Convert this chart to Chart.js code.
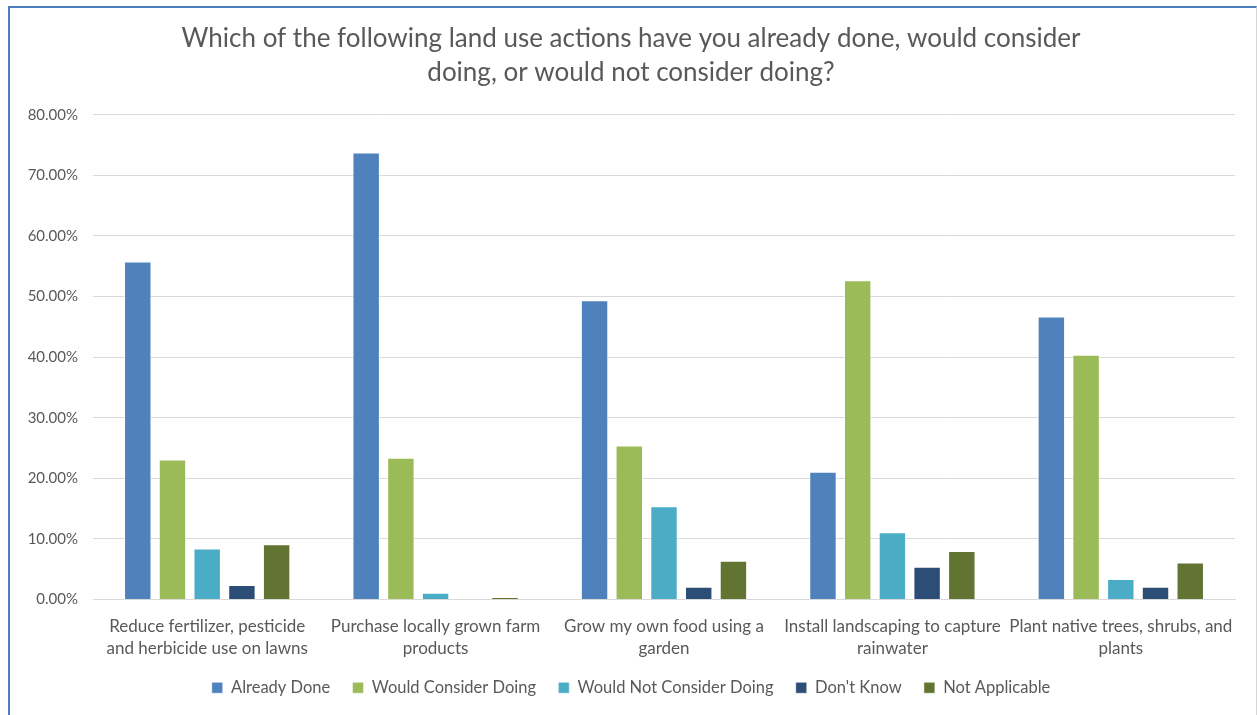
<!DOCTYPE html>
<html>
<head>
<meta charset="utf-8">
<script src="https://cdn.jsdelivr.net/npm/chart.js@4.4.0/dist/chart.umd.min.js"></script>
<style>
  html, body { margin: 0; padding: 0; background: #fff; }
  #frame {
    position: absolute; left: 8px; top: 6px; width: 1249px; height: 709px;
    box-sizing: border-box;
    border-left: 2px solid #4a7ebb; border-top: 2px solid #4a7ebb;
    border-right: 1px solid #d6d6d6;
  }
  #box { position: relative; width: 100%; height: 100%; }
</style>
</head>
<body>
<div id="frame"><div id="box"><canvas id="myChart"></canvas></div></div>
<script>
const categories = [
    ['Reduce fertilizer, pesticide', 'and herbicide use on lawns'],
    ['Purchase locally grown farm', 'products'],
    ['Grow my own food using a', 'garden'],
    ['Install landscaping to capture', 'rainwater'],
    ['Plant native trees, shrubs, and', 'plants'],
]
const seriesNames = ['Already Done', 'Would Consider Doing', 'Would Not Consider Doing', "Don't Know", 'Not Applicable']
const alreadyDone = [55.8, 73.8, 49.4, 21.1, 46.7]
const wouldConsider = [23.1, 23.4, 25.4, 52.7, 40.4]
const wouldNotConsider = [8.4, 1.1, 15.4, 11.1, 3.4]
const dontKnow = [2.4, 0, 2.1, 5.4, 2.1]
const notApplicable = [9.1, 0.4, 6.4, 8.0, 6.1]
const yTicks = [0, 10, 20, 30, 40, 50, 60, 70, 80]

const colors = ['#4f81bd', '#9bbb59', '#4bacc6', '#2c4d75', '#617432']
const values = [alreadyDone, wouldConsider, wouldNotConsider, dontKnow, notApplicable]

const FONT = 'Lato, "Open Sans", sans-serif'
const GREY = '#595959'
const PAD_LEFT = 17

let datasets = []
values.map((vals, i) => {
    datasets.push({
        label: seriesNames[i],
        data: vals,
        backgroundColor: colors[i],
        borderColor: 'rgba(255,255,255,0.55)',
        borderWidth: 1,
        categoryPercentage: 0.76,
        barPercentage: 0.79,
    })
})

const ctx = document.getElementById('myChart').getContext('2d')

const config = {
    type: 'bar',
    data: { labels: categories, datasets: datasets },
    options: {
        responsive: true,
        maintainAspectRatio: false,
        animation: false,
        layout: { padding: { left: PAD_LEFT, right: 21, top: 0, bottom: 9 } },
        plugins: {
            title: {
                display: true,
                text: ['Which of the following land use actions have you already done, would consider', 'doing, or would not consider doing?'],
                color: GREY,
                font: { family: FONT, size: 26, weight: 'normal', lineHeight: 1.285 },
                padding: { top: 14, bottom: 26 },
            },
            legend: {
                position: 'bottom',
                labels: {
                    color: GREY,
                    font: { family: FONT, size: 16.5 },
                    boxWidth: 11,
                    boxHeight: 11,
                    padding: 18,
                    // a little more room between items
                    generateLabels: (chart) => {
                        const items = Chart.defaults.plugins.legend.labels.generateLabels(chart)
                        items.forEach((item, i) => {
                            if (i < items.length - 1) item.text = item.text + ' '
                        })
                        return items
                    },
                },
            },
            tooltip: { enabled: false },
        },
        scales: {
            x: {
                grid: { display: false, drawTicks: false },
                border: { display: true, color: '#d9d9d9', width: 1 },
                ticks: { color: GREY, font: { family: FONT, size: 17, lineHeight: 1.3 }, padding: 16, maxRotation: 0, autoSkip: false },
                afterFit: (scale) => { scale.height = 62 },
            },
            y: {
                min: 0,
                max: 80,
                afterBuildTicks: (scale) => { scale.ticks = yTicks.map((v) => ({ value: v })) },
                grid: { color: '#d9d9d9', lineWidth: 1, drawTicks: false },
                border: { display: false },
                ticks: {
                    color: GREY,
                    font: { family: FONT, size: 15 },
                    padding: 15,
                    callback: (v) => v.toFixed(2) + '%',
                },
                afterFit: (scale) => { scale.width = 83 - PAD_LEFT },
            },
        },
    },
}

new Chart(ctx, config)
</script>
</body>
</html>
